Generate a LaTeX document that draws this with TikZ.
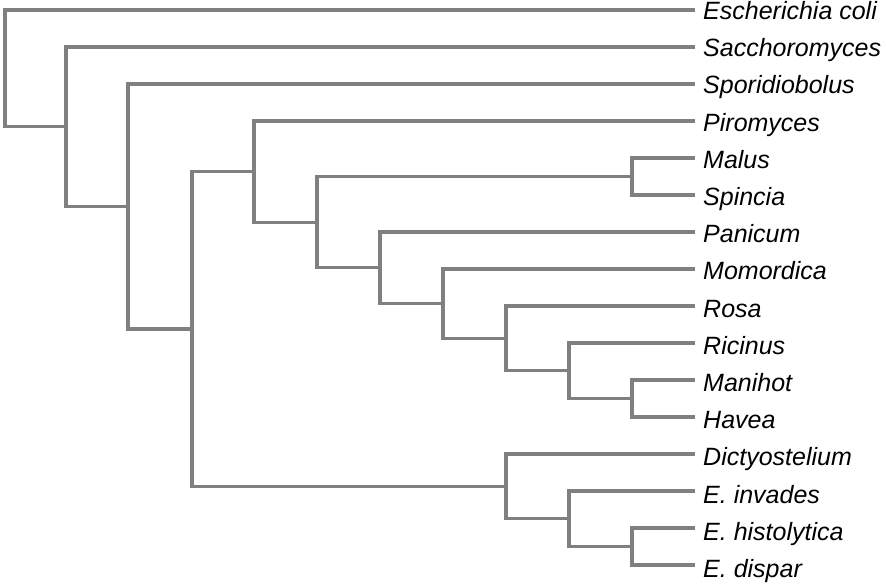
\documentclass[tikz,border=0pt]{standalone}
\usepackage{fontspec}
\setmainfont{Liberation Sans}
\begin{document}
\begin{tikzpicture}[x=1pt,y=-1pt]
	\tikzset{branch/.style={draw=gray,line width=3.3pt},
		taxon/.style={anchor=base west,inner sep=0pt,font=\fontsize{25}{25}\selectfont\itshape}
	}
	\useasboundingbox (0,0) rectangle (886,585);
	% leaves and their names
	\foreach \n/\t [count=\i from 0] in {ecoli/Escherichia coli,sacch/Sacchoromyces,
		spori/Sporidiobolus,piro/Piromyces,malus/Malus,spin/Spincia,pani/Panicum,
		momo/Momordica,rosa/Rosa,rici/Ricinus,mani/Manihot,have/Havea,
		dict/Dictyostelium,einv/E. invades,ehis/E. histolytica,edis/E. dispar}{
		\coordinate (\n) at (695,10+37*\i);
		\node[taxon] (\n-name) at (703,19.5+37.2*\i) {\t};}
	% clades: name/x/upper/lower
	\foreach \p/\x/\u/\l in {ms/632/malus/spin,mh/632/mani/have,hd/632/ehis/edis,
		rmh/569/rici/mh,ihd/569/einv/hd,rr/506/rosa/rmh,di/506/dict/ihd,
		mr/443/momo/rr,pm/380/pani/mr,mp/317/ms/pm,pi/254/piro/mp,
		ed/192/pi/di,sp/128/spori/ed,sa/66/sacch/sp,root/5/ecoli/sa}{
		\path (\u) -- (\l) coordinate[midway] (\p-m);
		\coordinate (\p) at (\x,0 |- \p-m);
		\draw[branch] (\p) |- (\u) (\p) |- (\l);}
\end{tikzpicture}
\end{document}
